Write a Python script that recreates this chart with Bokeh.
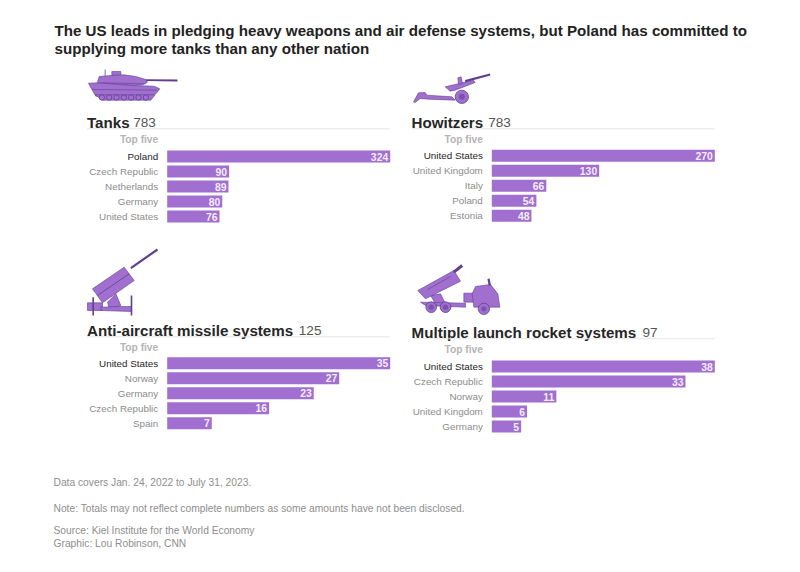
from bokeh.plotting import figure
from bokeh.models import Range1d
from bokeh.core.properties import value
from bokeh.embed import file_html
from bokeh.resources import INLINE

# ---------- data ----------
headline = ["The US leads in pledging heavy weapons and air defense systems, but Poland has committed to",
            "supplying more tanks than any other nation"]
tank_countries = ["Poland", "Czech Republic", "Netherlands", "Germany", "United States"]
tank_values = [324, 90, 89, 80, 76]
howitzer_countries = ["United States", "United Kingdom", "Italy", "Poland", "Estonia"]
howitzer_values = [270, 130, 66, 54, 48]
missile_countries = ["United States", "Norway", "Germany", "Czech Republic", "Spain"]
missile_values = [35, 27, 23, 16, 7]
rocket_countries = ["United States", "Czech Republic", "Norway", "United Kingdom", "Germany"]
rocket_values = [38, 33, 11, 6, 5]
footnotes = ["Data covers Jan. 24, 2022 to July 31, 2023.",
             "Note: Totals may not reflect complete numbers as some amounts have not been disclosed.",
             "Source: Kiel Institute for the World Economy",
             "Graphic: Lou Robinson, CNN"]

# ---------- styles ----------
FONT = value("Liberation Sans")
BAR = "#a06fcf"
EDGE = "#5f3f8e"
DARK = "#262626"
GREY = "#8c8c8c"

L, T, R, B = 0, 0, 784, 556
p = figure(width=R - L, height=B - T, output_backend="svg", toolbar_location=None,
           x_range=Range1d(L, R), y_range=Range1d(B, T), min_border=0,
           background_fill_color="white", border_fill_color="white", outline_line_color=None)
p.axis.visible = False
p.grid.visible = False


def txt(x, y, s, size, color, bold=False, align="left", baseline="alphabetic", **kw):
    p.text([x], [y], text=[s], text_font=FONT, text_font_size=f"{size}px", text_color=color,
           text_font_style="bold" if bold else "normal", text_align=align, text_baseline=baseline, **kw)


txt(54, 30, headline[0], 15.15, "#222222", True)
txt(54, 48, headline[1], 15.15, "#222222", True)

for y, s in zip([481.5, 507.5, 530, 543], footnotes):
    txt(53, y, s, 10.25, "#8e8e8e", baseline="middle")


def panel(name, title, total, total_x, countries, vals, x0, x1, y0, base, rule, top):
    xl = x0 - 80.2
    txt(xl, base, title, 15.15, DARK, True)
    txt(total_x, base, str(total), 13.6, "#555555")
    p.line([xl, x1], [rule, rule], line_color="#e6e6e6", line_width=1)
    txt(x0 - 9, top, "Top five", 10.2, "#b4b4b4", True, "right", "middle")
    k = (x1 - x0) / max(vals)
    pitch = 15.0
    p.extra_x_ranges[name] = Range1d((L - x0) / k, (R - x0) / k)
    p.extra_y_ranges[name] = Range1d((B - y0) / pitch, (T - y0) / pitch)
    rows = list(range(len(vals)))
    p.hbar(y=rows, left=0, right=vals, height=0.8, fill_color=BAR, line_color=None,
           x_range_name=name, y_range_name=name)
    p.text(x=vals, y=rows, text=[str(v) for v in vals], x_offset=-2, text_font=FONT, text_font_size="10.4px",
           text_font_style="bold", text_color="#f4ecfb", text_align="right", text_baseline="middle",
           x_range_name=name, y_range_name=name)
    p.text(x=[0] * len(rows), y=rows, text=countries, x_offset=-9, text_font=FONT, text_font_size="9.85px",
           text_color=[DARK] + [GREY] * (len(rows) - 1), text_align="right", text_baseline="middle",
           x_range_name=name, y_range_name=name)


panel("tanks", "Tanks", 783, 132.7, tank_countries, tank_values, 166.7, 389.7, 156, 122, 128.3, 139)
panel("howitzers", "Howitzers", 783, 487.7, howitzer_countries, howitzer_values, 491.3, 714.3, 155.3, 122, 128.3, 139)
panel("missiles", "Anti-aircraft missile systems", 125, 298.3, missile_countries, missile_values, 166.7, 389.7, 362.7, 330, 336.3, 347)
panel("rockets", "Multiple launch rocket systems", 97, 642, rocket_countries, rocket_values, 491.3, 714.3, 366, 331.7, 338.3, 348.7)


# ---------- decorative icons (drawn in 1/3-pixel units from an origin) ----------
def icon(ox, oy, polys=(), lines=(), discs=()):
    if polys:
        p.patches([[ox + a / 3 for a, _ in q] for q in polys], [[oy + b / 3 for _, b in q] for q in polys],
                  fill_color=BAR, line_color=EDGE, line_width=0.6)
    for (a, b, c, d, w) in lines:
        p.line([ox + a / 3, ox + c / 3], [oy + b / 3, oy + d / 3], line_color=EDGE, line_width=w)
    for (a, b, r, inner) in discs:
        p.circle([ox + a / 3], [oy + b / 3], radius=r / 3, fill_color=BAR, line_color=EDGE, line_width=0.8)
        if inner:
            p.circle([ox + a / 3], [oy + b / 3], radius=inner / 3, fill_color="#7d52ad", line_color=None)


icon(82, 65,
     polys=[[(88, 18), (115, 18), (115, 32), (88, 32)],
            [(45, 50), (50, 33), (85, 30), (125, 28), (160, 33), (190, 42), (195, 50), (180, 58), (150, 60), (45, 52)],
            [(18, 53), (45, 52), (150, 60), (215, 62), (232, 70), (220, 85), (200, 90), (40, 92), (28, 72)],
            [(38, 88), (218, 88), (205, 104), (60, 104)]],
     lines=[(190, 44, 285, 45, 1.8), (68, 12, 68, 32, 0.8), (60, 52, 190, 55, 0.6), (30, 72, 225, 74, 0.6)],
     discs=[(x, 96, 8, 0) for x in (58, 80, 102, 124, 146, 168, 190)])

icon(408, 68,
     polys=[[(15, 100), (30, 73), (50, 72), (55, 80), (130, 85), (140, 95), (60, 92), (35, 90), (20, 102)],
            [(110, 55), (195, 35), (200, 42), (140, 65), (125, 68)],
            [(148, 28), (158, 25), (162, 45), (150, 48)]],
     lines=[(170, 38, 245, 18, 2.2)],
     discs=[(160, 85, 20, 9)])

icon(82, 245,
     polys=[[(15, 172), (60, 172), (60, 195), (15, 195)],
            [(75, 170), (100, 145), (115, 180), (80, 190)],
            [(55, 185), (110, 183), (147, 183), (147, 198), (55, 195)],
            [(30, 130), (125, 65), (155, 105), (60, 172)]],
     lines=[(45, 150, 140, 85, 0.8), (145, 68, 225, 12, 2.2), (32, 155, 32, 210, 1.6), (147, 150, 147, 210, 1.6)])

icon(410, 260,
     polys=[[(60, 105), (90, 100), (105, 130), (75, 130)],
            [(30, 125), (165, 128), (165, 140), (45, 135)],
            [(160, 98), (190, 98), (190, 125), (160, 125)],
            [(185, 100), (195, 78), (240, 72), (262, 100), (268, 140), (190, 140)],
            [(22, 90), (130, 30), (150, 62), (45, 115)]],
     lines=[(130, 35, 155, 15, 3), (234, 55, 238, 75, 2.2), (50, 88, 120, 48, 0.6)],
     discs=[(62, 140, 16, 8), (105, 140, 16, 8), (220, 145, 17, 8)])

open("out.html", "w").write(file_html(p, INLINE))
